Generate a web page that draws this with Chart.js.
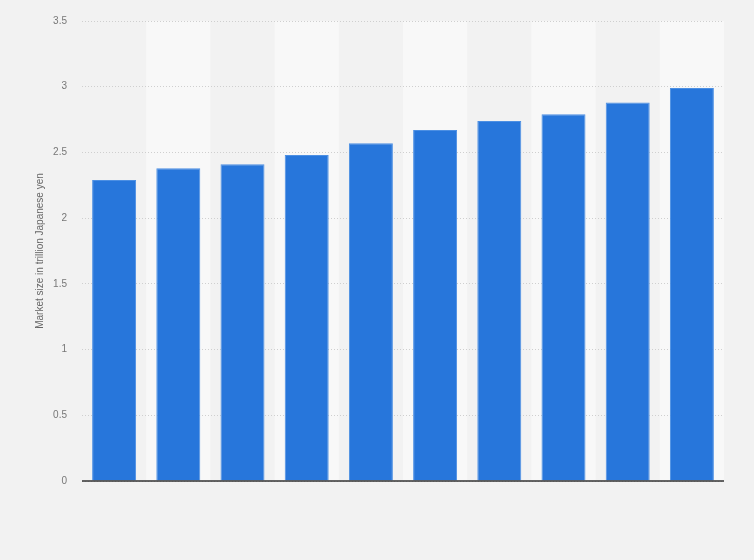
<!DOCTYPE html>
<html>
<head>
<meta charset="utf-8">
<script src="https://cdn.jsdelivr.net/npm/chart.js@4"></script>
<style>
html,body{margin:0;padding:0;background:#f2f2f2;}
#wrap{width:754px;height:560px;position:relative;}
</style>
</head>
<body>
<div id="wrap"><canvas id="c" width="754" height="560"></canvas></div>
<script>
const categories = ["2014","2015","2016","2017","2018","2019","2020","2021","2022","2023"];
const marketSize = [2.29, 2.38, 2.41, 2.48, 2.57, 2.67, 2.74, 2.79, 2.88, 2.99];
const yTicks = [0, 0.5, 1, 1.5, 2, 2.5, 3, 3.5];
const yTitle = "Market size in trillion Japanese yen";

const bandPlugin = {
  id: 'bands',
  beforeDraw(chart) {
    const {ctx, chartArea, scales} = chart;
    const x = scales.x;
    ctx.save();
    const n = categories.length;
    const w = (chartArea.right - chartArea.left) / n;
    for (let i = 0; i < n; i++) {
      if (i % 2 === 1) {
        const cx = x.getPixelForValue(i);
        ctx.fillStyle = '#f8f8f8';
        ctx.fillRect(cx - w / 2, chartArea.top, w, chartArea.bottom - chartArea.top);
      }
    }
    ctx.restore();
  },
  afterDatasetsDraw(chart) {
    const {ctx, chartArea, scales} = chart;
    const y0 = scales.y.getPixelForValue(0);
    ctx.save();
    ctx.strokeStyle = '#333333';
    ctx.lineWidth = 1.5;
    ctx.beginPath();
    ctx.moveTo(chartArea.left, y0);
    ctx.lineTo(chartArea.right, y0);
    ctx.stroke();
    ctx.restore();
  }
};

new Chart(document.getElementById('c'), {
  type: 'bar',
  data: {
    labels: categories,
    datasets: [{
      data: marketSize,
      backgroundColor: '#2776db',
      borderColor: '#4c8fe3',
      borderWidth: {top: 1, left: 1, right: 1, bottom: 0},
      barPercentage: 0.685,
      categoryPercentage: 1.0
    }]
  },
  options: {
    responsive: false,
    animation: false,
    devicePixelRatio: 1,
    layout: {padding: {left: 30, right: 30, top: 14, bottom: 79}},
    plugins: {legend: {display: false}, tooltip: {enabled: false}},
    scales: {
      x: {
        grid: {display: false, drawTicks: false},
        border: {display: false},
        ticks: {display: false}
      },
      y: {
        min: 0, max: 3.5,
        afterBuildTicks(axis) { axis.ticks = yTicks.map(v => ({value: v})); },
        afterFit(axis) { axis.width = 52; },
        grid: {color: '#cfcfcf', lineWidth: 1, drawTicks: false},
        border: {display: false, dash: [1, 2]},
        ticks: {
          color: '#777777', padding: 15,
          callback: (v) => String(v),
          font: {family: 'Liberation Sans, Arial, sans-serif', size: 10}
        },
        title: {
          display: true, text: yTitle, color: '#666666', padding: {top: 4, bottom: 0},
          font: {family: 'Liberation Sans, Arial, sans-serif', size: 10}
        }
      }
    }
  },
  plugins: [bandPlugin]
});
</script>
</body>
</html>
